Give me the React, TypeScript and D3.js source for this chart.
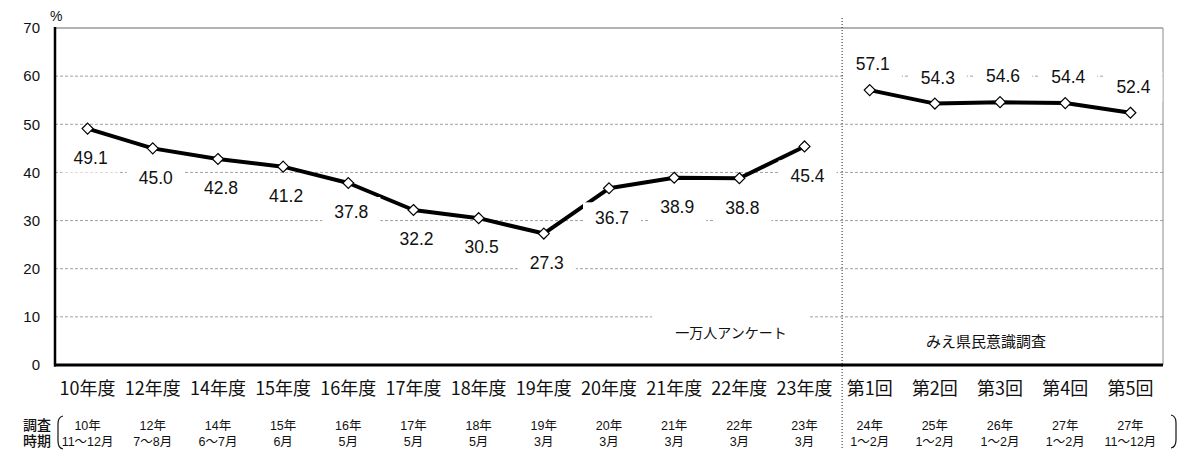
import * as d3 from "d3";
import { useEffect, useRef } from "react";

// categories along the x axis
const categories = [
  "10年度", "12年度", "14年度", "15年度", "16年度", "17年度", "18年度",
  "19年度", "20年度", "21年度", "22年度", "23年度",
  "第1回", "第2回", "第3回", "第4回", "第5回",
];

// survey timing (two rows under each category)
const periodYear = [
  "10年", "12年", "14年", "15年", "16年", "17年", "18年", "19年", "20年", "21年", "22年", "23年",
  "24年", "25年", "26年", "27年", "27年",
];
const periodMonth = [
  "11～12月", "7～8月", "6～7月", "6月", "5月", "5月", "5月", "3月", "3月", "3月", "3月", "3月",
  "1～2月", "1～2月", "1～2月", "1～2月", "11～12月",
];

// 一万人アンケート (10年度 - 23年度)
const tenThousandCats = categories.slice(0, 12);
const tenThousandValues = [49.1, 45.0, 42.8, 41.2, 37.8, 32.2, 30.5, 27.3, 36.7, 38.9, 38.8, 45.4];

// みえ県民意識調査 (第1回 - 第5回)
const mieCats = categories.slice(12);
const mieValues = [57.1, 54.3, 54.6, 54.4, 52.4];

const yTicks = [0, 10, 20, 30, 40, 50, 60, 70];

const JP = "'Noto Sans CJK JP', 'Liberation Sans', sans-serif";
const NUM = "'Liberation Sans', Arial, sans-serif";
// timing rows: latin metrics keep the two tight rows from colliding
const MIX = "'Liberation Sans', 'Noto Sans CJK JP', sans-serif";

export default function App() {
  const svgRef = useRef<SVGSVGElement>(null);

  useEffect(() => {
    if (!svgRef.current) return;
    const svg = d3.select(svgRef.current);
    svg.selectAll("*").remove();

    const width = 1179;
    const height = 450;
    const left = 55;
    const right = 1163;
    const top = 28;
    const bottom = 365;

    svg.attr("width", width).attr("height", height).attr("viewBox", `0 0 ${width} ${height}`);

    const x = d3.scaleBand<string>().domain(categories).range([left, right]);
    const cx = (c: string) => (x(c) ?? 0) + x.bandwidth() / 2;
    const y = d3.scaleLinear().domain([0, 70]).range([bottom, top]);

    // grid
    svg
      .append("g")
      .selectAll("line")
      .data(yTicks.filter((t) => t > 0 && t < 70))
      .enter()
      .append("line")
      .attr("x1", left)
      .attr("x2", right)
      .attr("y1", (d) => y(d))
      .attr("y2", (d) => y(d))
      .style("stroke", "#a0a0a0")
      .style("stroke-width", 1)
      .style("stroke-dasharray", "3,2");

    // frame: gray top and right
    svg.append("line").attr("x1", left).attr("x2", right).attr("y1", y(70)).attr("y2", y(70))
      .style("stroke", "#9a9a9a").style("stroke-width", 1.5);
    svg.append("line").attr("x1", right).attr("x2", right).attr("y1", y(70)).attr("y2", y(0))
      .style("stroke", "#8a8a8a").style("stroke-width", 1);

    // y tick labels
    svg
      .append("g")
      .selectAll("text")
      .data(yTicks)
      .enter()
      .append("text")
      .attr("x", 40)
      .attr("y", (d) => y(d))
      .attr("dy", "0.35em")
      .attr("text-anchor", "end")
      .style("font-family", NUM)
      .style("font-size", "15px")
      .style("fill", "#111")
      .text((d) => d);

    svg.append("text").attr("x", 50).attr("y", 21).style("font-family", NUM)
      .style("font-size", "14px").style("fill", "#111").text("%");

    // divider between the two surveys
    const divX = (x("第1回") ?? 0) + 5;
    svg.append("line").attr("x1", divX).attr("x2", divX).attr("y1", 18).attr("y2", height)
      .style("stroke", "#222").style("stroke-width", 1).style("stroke-dasharray", "1,2");

    // series lines
    const drawSeries = (cats: string[], values: number[], labelDy: number) => {
      const pts = cats.map((c, i) => ({ c, v: values[i] }));
      const line = d3
        .line<{ c: string; v: number }>()
        .x((d) => cx(d.c))
        .y((d) => y(d.v));
      svg.append("path").datum(pts).attr("d", line)
        .style("fill", "none").style("stroke", "#000").style("stroke-width", 4)
        .style("stroke-linejoin", "round");

      const diamond = d3.symbol().type(d3.symbolDiamond2).size(76);
      svg.append("g").selectAll("path").data(pts).enter().append("path")
        .attr("d", diamond)
        .attr("transform", (d) => `translate(${cx(d.c)},${y(d.v)})`)
        .style("fill", "#fff").style("stroke", "#000").style("stroke-width", 1.2);

      const labels = svg.append("g").selectAll("g").data(pts).enter().append("g")
        .attr("transform", (d) => `translate(${cx(d.c) + 3},${y(d.v) + labelDy})`);
      labels.append("rect").attr("x", -29).attr("y", -15).attr("width", 58).attr("height", 30)
        .style("fill", "#fff");
      labels.append("text").attr("text-anchor", "middle").attr("dy", "0.36em")
        .style("font-family", NUM).style("font-size", "17.5px").style("fill", "#111")
        .text((d) => d.v.toFixed(1));
    };

    drawSeries(tenThousandCats, tenThousandValues, 29);
    drawSeries(mieCats, mieValues, -26);

    // survey name boxes
    const notes = [
      { t: "一万人アンケート", x: 731, y: 333, w: 158, size: 14 },
      { t: "みえ県民意識調査", x: 986, y: 342, w: 150, size: 15 },
    ];
    notes.forEach((n) => {
      svg.append("rect").attr("x", n.x - n.w / 2).attr("y", n.y - 17).attr("width", n.w)
        .attr("height", 34).style("fill", "#fff");
      svg.append("text").attr("x", n.x).attr("y", n.y).attr("dy", "0.36em")
        .attr("text-anchor", "middle").style("font-family", JP)
        .style("font-size", `${n.size}px`).style("fill", "#111").text(n.t);
    });

    // axes (drawn on top)
    svg.append("line").attr("x1", left).attr("x2", left).attr("y1", y(70) - 1).attr("y2", y(0) + 1.5)
      .style("stroke", "#000").style("stroke-width", 2.5);
    svg.append("line").attr("x1", left - 1).attr("x2", right).attr("y1", y(0)).attr("y2", y(0))
      .style("stroke", "#000").style("stroke-width", 3);

    // category labels
    svg.append("g").selectAll("text").data(categories).enter().append("text")
      .attr("x", (d) => cx(d))
      .attr("y", 389)
      .attr("dy", "0.36em")
      .attr("text-anchor", "middle")
      .style("font-family", JP)
      .style("font-size", "18px")
      .style("fill", "#111")
      .text((d) => d);

    // survey timing rows
    const timing = svg.append("g").style("font-family", MIX).style("font-size", "12.5px").style("fill", "#111");
    timing.selectAll(".yr").data(categories).enter().append("text")
      .attr("x", (d) => cx(d)).attr("y", 425).attr("dy", "0.36em").attr("text-anchor", "middle")
      .text((_d, i) => periodYear[i]);
    timing.selectAll(".mo").data(categories).enter().append("text")
      .attr("x", (d) => cx(d)).attr("y", 441).attr("dy", "0.36em").attr("text-anchor", "middle")
      .text((_d, i) => periodMonth[i]);

    const heading = svg.append("g").style("font-family", MIX).style("font-size", "14px")
      .style("font-weight", 500).style("fill", "#111");
    heading.append("text").attr("x", 37).attr("y", 425).attr("dy", "0.36em").attr("text-anchor", "middle").text("調査");
    heading.append("text").attr("x", 37).attr("y", 441).attr("dy", "0.36em").attr("text-anchor", "middle").text("時期");

    // brackets
    svg.append("path").attr("d", "M63,416 Q58,417 58,424 L58,441 Q58,448 63,449")
      .style("fill", "none").style("stroke", "#111").style("stroke-width", 1.2);
    svg.append("path").attr("d", "M1171,415 Q1176,416 1176,423 L1176,440 Q1176,447 1171,448")
      .style("fill", "none").style("stroke", "#111").style("stroke-width", 1.2);
  }, []);

  return (
    <div style={{ position: "absolute", left: 0, top: 0, background: "#fff" }}>
      <svg ref={svgRef} style={{ display: "block" }} />
    </div>
  );
}
